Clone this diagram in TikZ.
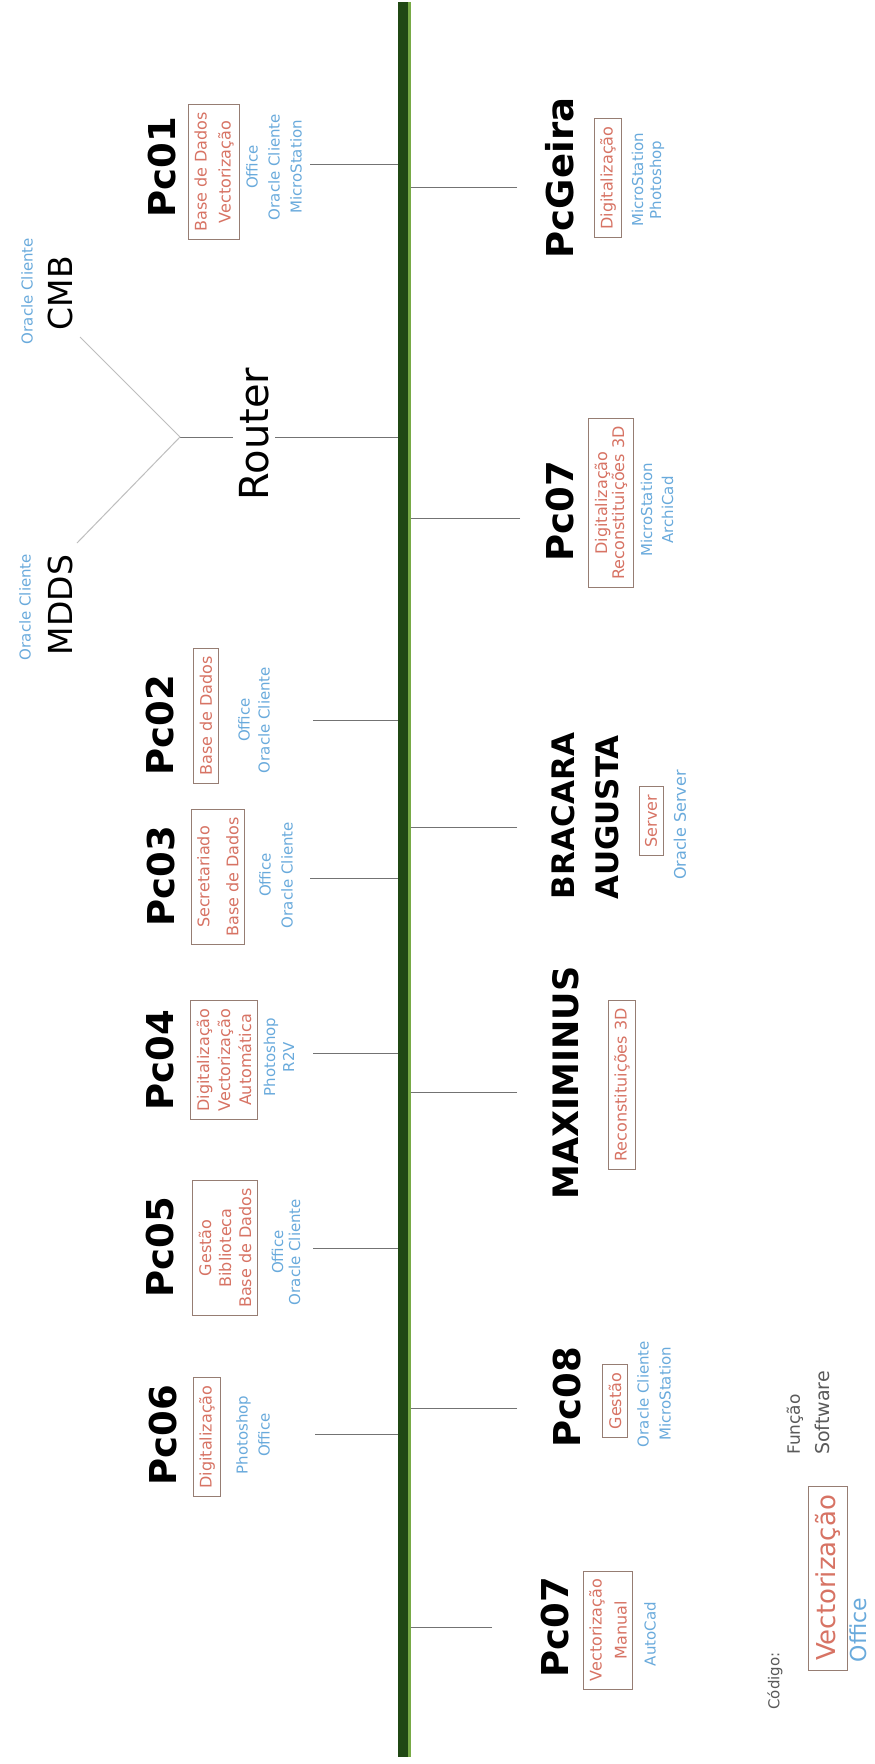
\documentclass[tikz,border=0pt]{standalone}
\usepackage{fontspec}
\setmainfont{DejaVu Sans}
\definecolor{busdark}{RGB}{32,72,20}
\definecolor{buslight}{RGB}{120,170,70}
\definecolor{fn}{RGB}{215,115,100}
\definecolor{sw}{RGB}{105,170,220}
\definecolor{bx}{RGB}{150,125,115}
\definecolor{ln}{RGB}{115,115,115}
\definecolor{lnl}{RGB}{190,190,190}
\definecolor{lg}{RGB}{90,90,90}
\tikzset{
  pcname/.style={rotate=90, font=\fontsize{37}{44}\selectfont\bfseries, inner sep=0pt},
  fnbox/.style={rotate=90, draw=bx, line width=0.8pt, text=fn, font=\fontsize{16}{24}\selectfont, align=center, inner xsep=8pt, inner ysep=6pt},
  swtext/.style={rotate=90, text=sw, font=\fontsize{15}{22}\selectfont, align=center, inner sep=0pt},
  branch/.style={draw=ln, line width=1pt},
  thinbranch/.style={draw=lnl, line width=1pt},
  bigtxt/.style={rotate=90, font=\fontsize{33}{36}\selectfont, inner sep=0pt},
  legtxt/.style={rotate=90, text=lg, inner sep=0pt},
}
\begin{document}
\begin{tikzpicture}[x=1pt,y=-1pt]
\useasboundingbox[fill=white] (0,0) rectangle (875,1764);

% bus coordinates
\coordinate (busT) at (403,2);
\coordinate (busB) at (403,1757);

% taps on bus
\foreach \n/\yy in {t01/164,tR/437,t02/720,t03/878,t04/1053,t05/1248,t06/1434,
  tG/187,t07a/518,tBA/827,tMX/1092,t08/1408,t07b/1627}
  {\coordinate (\n) at (403,\yy);}

% free ends of branches
\coordinate (e01) at (310,164);
\coordinate (rt) at (180,437);
\coordinate (e02) at (313,720);
\coordinate (e03) at (310,878);
\coordinate (e04) at (313,1053);
\coordinate (e05) at (313,1248);
\coordinate (e06) at (315,1434);
\coordinate (eG) at (517,187);
\coordinate (e07a) at (520,518);
\coordinate (eBA) at (517,827);
\coordinate (eMX) at (517,1092);
\coordinate (e08) at (517,1408);
\coordinate (e07b) at (492,1627);
\coordinate (cmbE) at (80,337);
\coordinate (mddsE) at (77,543);

% branches
\foreach \a/\b in {e01/t01,rt/tR,e02/t02,e03/t03,e04/t04,e05/t05,e06/t06,
  eG/tG,e07a/t07a,eBA/tBA,eMX/tMX,e08/t08,e07b/t07b}
  {\draw[branch] (\a) -- (\b);}
\draw[thinbranch] (rt) -- (cmbE);
\draw[thinbranch] (rt) -- (mddsE);

% bus
\draw[buslight, line width=13pt] ([xshift=1pt]busT) -- ([xshift=1pt]busB);
\draw[busdark, line width=10.5pt] (busT) -- (busB);

% Router, CMB, MDDS
\node[bigtxt, font=\fontsize{40}{44}\selectfont, fill=white, inner xsep=3pt, inner ysep=6pt] (router) at (254,434) {Router};
\node[bigtxt] (cmb) at (60,293) {CMB};
\node[swtext] (cmbs) at (27,291) {Oracle Cliente};
\node[bigtxt] (mdds) at (60,605) {MDDS};
\node[swtext] (mddss) at (25,607) {Oracle Cliente};

% Pc01
\node[pcname] (pc01) at (162,167) {Pc01};
\node[fnbox] (f01) at (214,172) {Base de Dados\\Vectorização};
\node[swtext] (s01) at (274,167) {Office\\Oracle Cliente\\MicroStation};

% Pc02
\node[pcname] (pc02) at (160,725) {Pc02};
\node[fnbox] (f02) at (206,716) {Base de Dados};
\node[swtext, font=\fontsize{15}{20}\selectfont] (s02) at (254,720) {Office\\Oracle Cliente};

% Pc03
\node[pcname] (pc03) at (161,876) {Pc03};
\node[fnbox, font=\fontsize{16}{29}\selectfont] (f03) at (218,877) {Secretariado\\Base de Dados};
\node[swtext] (s03) at (276,875) {Office\\Oracle Cliente};

% Pc04
\node[pcname] (pc04) at (160,1060) {Pc04};
\node[fnbox, font=\fontsize{16}{21}\selectfont] (f04) at (224,1060) {Digitalização\\Vectorização\\Automática};
\node[swtext, font=\fontsize{15}{19}\selectfont] (s04) at (279,1057) {Photoshop\\R2V};

% Pc05
\node[pcname] (pc05) at (160,1247) {Pc05};
\node[fnbox, font=\fontsize{16}{20}\selectfont] (f05) at (225,1248) {Gestão\\Biblioteca\\Base de Dados};
\node[swtext, font=\fontsize{15}{17}\selectfont] (s05) at (286,1252) {Office\\Oracle Cliente};

% Pc06
\node[pcname] (pc06) at (163,1435) {Pc06};
\node[fnbox] (f06) at (207,1437) {Digitalização};
\node[swtext] (s06) at (253,1435) {Photoshop\\Office};

% PcGeira
\node[pcname] (pcg) at (560,178) {PcGeira};
\node[fnbox] (fg) at (608,178) {Digitalização};
\node[swtext, font=\fontsize{15}{18}\selectfont] (sg) at (648,180) {MicroStation\\Photoshop};

% Pc07 (top)
\node[pcname] (pc07a) at (560,511) {Pc07};
\node[fnbox, font=\fontsize{16}{17}\selectfont] (f07a) at (611,503) {Digitalização\\Reconstituições 3D};
\node[swtext, font=\fontsize{15}{21}\selectfont] (s07a) at (657,510) {MicroStation\\ArchiCad};

% BRACARA AUGUSTA
\node[pcname, font=\fontsize{31}{44}\selectfont\bfseries, align=left] (ba) at (585,816) {BRACARA\\AUGUSTA};
\node[fnbox] (fba) at (651,821) {Server};
\node[swtext, font=\fontsize{16}{20}\selectfont] (sba) at (680,825) {Oracle Server};

% MAXIMINUS
\node[pcname, font=\fontsize{35}{40}\selectfont\bfseries] (mx) at (566,1083) {MAXIMINUS};
\node[fnbox] (fmx) at (622,1085) {Reconstituições 3D};

% Pc08
\node[pcname] (pc08) at (567,1397) {Pc08};
\node[fnbox] (f08) at (615,1401) {Gestão};
\node[swtext] (s08) at (654,1394) {Oracle Cliente\\MicroStation};

% Pc07 (bottom)
\node[pcname] (pc07b) at (555,1627) {Pc07};
\node[fnbox, font=\fontsize{16}{25}\selectfont] (f07b) at (608,1630) {Vectorização\\Manual};
\node[swtext] (s07b) at (650,1634) {AutoCad};

% legend
\node[legtxt, font=\fontsize{15}{18}\selectfont] (cod) at (775,1681) {Código:};
\node[fnbox, font=\fontsize{26}{28}\selectfont, inner xsep=9pt, inner ysep=7pt] (leg) at (828,1578) {Vectorização};
\node[swtext, font=\fontsize{22}{24}\selectfont] (legs) at (858,1630) {Office};
\node[legtxt, font=\fontsize{17}{20}\selectfont, anchor=west] (fun) at (795,1455) {Função};
\node[legtxt, font=\fontsize{19}{20}\selectfont, anchor=west] (sof) at (822,1455) {Software};
\end{tikzpicture}
\end{document}
